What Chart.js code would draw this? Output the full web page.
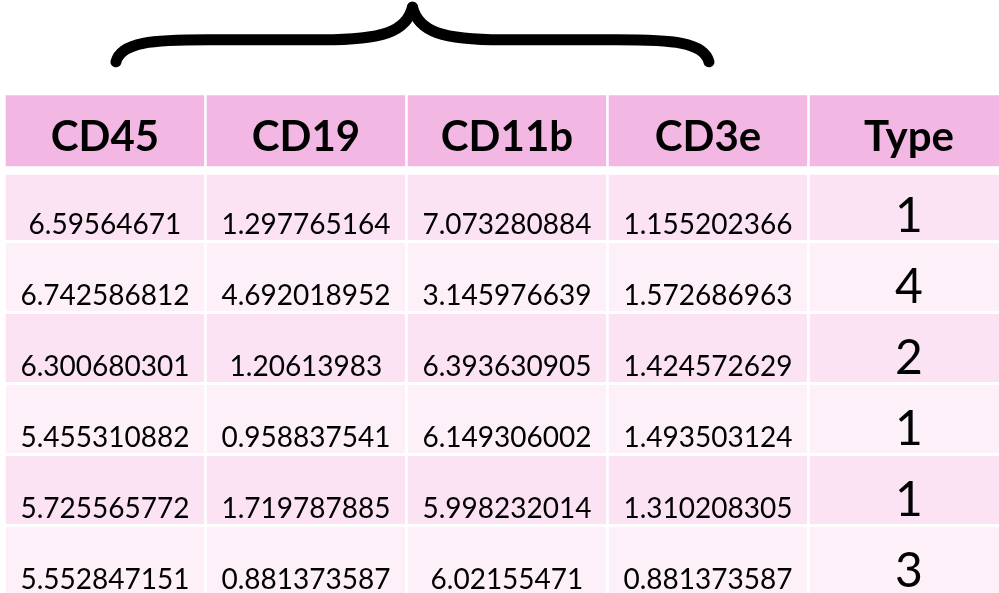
<!DOCTYPE html>
<html>
<head>
<meta charset="utf-8">
<script src="https://cdn.jsdelivr.net/npm/chart.js@4"></script>
<style>
  html, body { margin: 0; padding: 0; background: #fff; }
  canvas { display: block; }
</style>
</head>
<body>
<canvas id="table" width="999" height="593"></canvas>
<script>
const headers = ['CD45', 'CD19', 'CD11b', 'CD3e', 'Type'];
const cd45 = [6.59564671, 6.742586812, 6.300680301, 5.455310882, 5.725565772, 5.552847151];
const cd19 = [1.297765164, 4.692018952, 1.20613983, 0.958837541, 1.719787885, 0.881373587];
const cd11b = [7.073280884, 3.145976639, 6.393630905, 6.149306002, 5.998232014, 6.02155471];
const cd3e = [1.155202366, 1.572686963, 1.424572629, 1.493503124, 1.310208305, 0.881373587];
const types = [1, 4, 2, 1, 1, 3];
const columns = [cd45, cd19, cd11b, cd3e, types];

const headerColor = '#f2b7e2';
const rowColors = ['#fbe3f4', '#fdf0f9'];

// vertical extent of a row, in row units (0 = header row)
function rowSpan(r) {
    if (r === 0) return [-0.56, 0.44];
    if (r === 1) return [0.56, 1.48];
    return [r - 0.48, r + 0.48];
}

const datasets = [{
    data: headers.map((h, i) => ({ x: i, y: rowSpan(0) })),
    backgroundColor: headerColor
}];
types.forEach((t, r) => {
    datasets.push({
        data: columns.map((col, i) => ({ x: i, y: rowSpan(r + 1) })),
        backgroundColor: rowColors[r % 2]
    });
});

// text of the cells and the brace above the first four columns
const tableText = {
    id: 'tableText',
    afterDatasetsDraw(chart) {
        const { ctx, scales: { x, y } } = chart;
        ctx.save();
        ctx.fillStyle = '#000';
        ctx.textAlign = 'center';
        ctx.textBaseline = 'alphabetic';

        ctx.font = 'bold 42px Lato';
        const headBottom = y.getPixelForValue(rowSpan(0)[1]);
        headers.forEach((h, i) => ctx.fillText(h, x.getPixelForValue(i), headBottom - 15));

        columns.forEach((col, i) => {
            const cx = x.getPixelForValue(i);
            col.forEach((v, r) => {
                const bottom = y.getPixelForValue(rowSpan(r + 1)[1]);
                if (i === columns.length - 1) {
                    ctx.font = '48px Lato';
                    ctx.fillText(String(v), cx, bottom - 8);
                } else {
                    ctx.font = '28px Lato';
                    ctx.fillText(String(v), cx, bottom - 6);
                }
            });
        });

        // curly brace
        const L = x.getPixelForValue(0.04);
        const R = x.getPixelForValue(3.02);
        const M = (L + R) / 2;
        const tip = y.getPixelForValue(-1.8);
        const arm = y.getPixelForValue(-1.34);
        const end = y.getPixelForValue(-1.03);
        ctx.strokeStyle = '#000';
        ctx.lineWidth = 11;
        ctx.lineCap = 'round';
        ctx.lineJoin = 'round';
        [[L, 1], [R, -1]].forEach(([s, d]) => {
            ctx.beginPath();
            ctx.moveTo(s + 3 * d, end);
            ctx.bezierCurveTo(s + 8 * d, arm + 2, s + 40 * d, arm, s + 95 * d, arm);
            ctx.lineTo(M - 90 * d, arm);
            ctx.bezierCurveTo(M - 30 * d, arm, M - 6 * d, arm - 8, M, tip);
            ctx.stroke();
        });
        ctx.restore();
    }
};

new Chart(document.getElementById('table'), {
    type: 'bar',
    data: { datasets },
    options: {
        responsive: false,
        animation: false,
        grouped: false,
        categoryPercentage: 1,
        barPercentage: 0.987,
        borderWidth: 0,
        layout: { padding: 0 },
        plugins: { legend: { display: false }, tooltip: { enabled: false } },
        scales: {
            x: {
                type: 'linear', min: -0.522, max: 4.448, offset: false, display: false,
                // one tick per column so the bar width follows the column pitch
                afterBuildTicks: axis => { axis.ticks = headers.map((h, i) => ({ value: i })); }
            },
            y: { type: 'linear', min: -1.901, max: 6.451, reverse: true, display: false }
        }
    },
    plugins: [tableText]
});
</script>
</body>
</html>
